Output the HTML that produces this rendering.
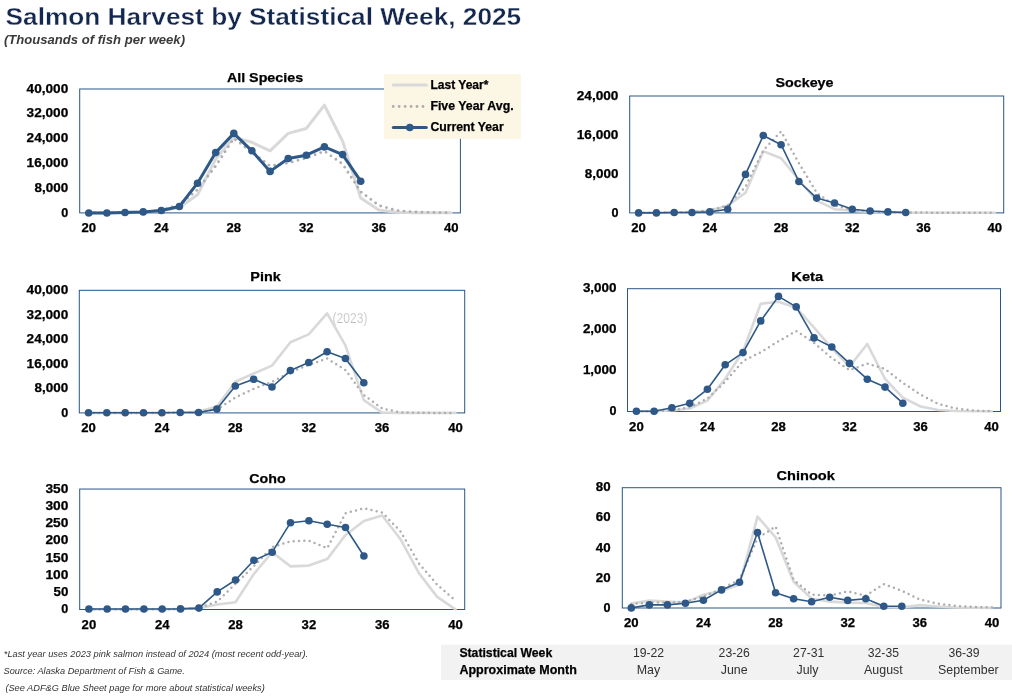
<!DOCTYPE html>
<html lang="en">
<head>
<meta charset="utf-8">
<title>Salmon Harvest by Statistical Week, 2025</title>
<style>
html,body{margin:0;padding:0;background:#fff;}
body{width:1012px;height:697px;overflow:hidden;font-family:"Liberation Sans", sans-serif;}
svg{display:block;will-change:transform;}
svg text{font-family:"Liberation Sans", sans-serif;}
</style>
</head>
<body>
<svg width="1012" height="697" viewBox="0 0 1012 697">
<rect x="0" y="0" width="1012" height="697" fill="#ffffff"/>
<text x="5.6" y="25.4" font-size="23.6" text-anchor="start" font-weight="bold" font-style="normal" fill="#14284f" textLength="515.6" lengthAdjust="spacingAndGlyphs" stroke="#fff" stroke-width="0.3">Salmon Harvest by Statistical Week, 2025</text>
<text x="4.0" y="44.0" font-size="12.3" text-anchor="start" font-weight="bold" font-style="italic" fill="#3a3a3a" textLength="181.0" lengthAdjust="spacingAndGlyphs">(Thousands of fish per week)</text>
<rect x="79.70" y="89.00" width="380.70" height="123.90" fill="#fff" stroke="#2a5585" stroke-width="1.0"/>
<polyline points="88.8,212.7 106.9,212.7 125.0,212.5 143.2,212.0 161.3,210.8 179.4,207.5 197.5,194.7 215.7,159.1 233.8,137.4 251.9,142.3 270.1,150.8 288.2,133.4 306.3,128.5 324.4,105.2 342.6,141.3 360.7,198.0 378.8,209.9 396.9,212.3 415.1,212.7 433.2,212.7 451.3,212.7" fill="none" stroke="#d9d9d9" stroke-width="3.0" stroke-linejoin="round" stroke-linecap="round"/>
<path d="M88.8,212.7 L106.9,212.7 L125.0,212.4 L143.2,211.9 L161.3,210.3 L179.4,204.6 L197.5,189.7 L215.7,166.0 L233.8,138.4 L251.9,152.2 L270.1,166.0 L288.2,163.0 L306.3,158.1 L324.4,151.2 L342.6,164.0 L360.7,191.7 L378.8,205.5 L396.9,210.5 L415.1,212.0 L433.2,212.5 L451.3,212.7" fill="none" stroke="#aeaeae" stroke-width="2.9" stroke-dasharray="0 6.0" stroke-linejoin="round" stroke-linecap="round"/>
<polyline points="88.8,213.0 106.9,213.0 125.0,212.5 143.2,211.9 161.3,210.5 179.4,206.5 197.5,183.2 215.7,152.6 233.8,133.4 251.9,150.8 270.1,171.4 288.2,158.5 306.3,155.2 324.4,146.9 342.6,154.6 360.7,181.2" fill="none" stroke="#2d5887" stroke-width="3.0" stroke-linejoin="round" stroke-linecap="round"/>
<circle cx="88.8" cy="213.0" r="3.8" fill="#2d5887"/>
<circle cx="106.9" cy="213.0" r="3.8" fill="#2d5887"/>
<circle cx="125.0" cy="212.5" r="3.8" fill="#2d5887"/>
<circle cx="143.2" cy="211.9" r="3.8" fill="#2d5887"/>
<circle cx="161.3" cy="210.5" r="3.8" fill="#2d5887"/>
<circle cx="179.4" cy="206.5" r="3.8" fill="#2d5887"/>
<circle cx="197.5" cy="183.2" r="3.8" fill="#2d5887"/>
<circle cx="215.7" cy="152.6" r="3.8" fill="#2d5887"/>
<circle cx="233.8" cy="133.4" r="3.8" fill="#2d5887"/>
<circle cx="251.9" cy="150.8" r="3.8" fill="#2d5887"/>
<circle cx="270.1" cy="171.4" r="3.8" fill="#2d5887"/>
<circle cx="288.2" cy="158.5" r="3.8" fill="#2d5887"/>
<circle cx="306.3" cy="155.2" r="3.8" fill="#2d5887"/>
<circle cx="324.4" cy="146.9" r="3.8" fill="#2d5887"/>
<circle cx="342.6" cy="154.6" r="3.8" fill="#2d5887"/>
<circle cx="360.7" cy="181.2" r="3.8" fill="#2d5887"/>
<text x="265.0" y="81.5" font-size="13.4" text-anchor="middle" font-weight="bold" font-style="normal" fill="#000" textLength="76.2" lengthAdjust="spacingAndGlyphs" stroke="#000" stroke-width="0.25">All Species</text>
<text x="68.2" y="217.0" font-size="12" text-anchor="end" font-weight="bold" font-style="normal" fill="#000" textLength="7.0" lengthAdjust="spacingAndGlyphs" stroke="#000" stroke-width="0.25">0</text>
<text x="68.2" y="192.0" font-size="12" text-anchor="end" font-weight="bold" font-style="normal" fill="#000" textLength="33.6" lengthAdjust="spacingAndGlyphs" stroke="#000" stroke-width="0.25">8,000</text>
<text x="68.2" y="167.0" font-size="12" text-anchor="end" font-weight="bold" font-style="normal" fill="#000" textLength="41.6" lengthAdjust="spacingAndGlyphs" stroke="#000" stroke-width="0.25">16,000</text>
<text x="68.2" y="142.0" font-size="12" text-anchor="end" font-weight="bold" font-style="normal" fill="#000" textLength="41.6" lengthAdjust="spacingAndGlyphs" stroke="#000" stroke-width="0.25">24,000</text>
<text x="68.2" y="117.0" font-size="12" text-anchor="end" font-weight="bold" font-style="normal" fill="#000" textLength="41.6" lengthAdjust="spacingAndGlyphs" stroke="#000" stroke-width="0.25">32,000</text>
<text x="68.2" y="93.0" font-size="12" text-anchor="end" font-weight="bold" font-style="normal" fill="#000" textLength="41.6" lengthAdjust="spacingAndGlyphs" stroke="#000" stroke-width="0.25">40,000</text>
<text x="88.8" y="232.0" font-size="12" text-anchor="middle" font-weight="bold" font-style="normal" fill="#000" textLength="14.6" lengthAdjust="spacingAndGlyphs" stroke="#000" stroke-width="0.25">20</text>
<text x="161.3" y="232.0" font-size="12" text-anchor="middle" font-weight="bold" font-style="normal" fill="#000" textLength="14.6" lengthAdjust="spacingAndGlyphs" stroke="#000" stroke-width="0.25">24</text>
<text x="233.8" y="232.0" font-size="12" text-anchor="middle" font-weight="bold" font-style="normal" fill="#000" textLength="14.6" lengthAdjust="spacingAndGlyphs" stroke="#000" stroke-width="0.25">28</text>
<text x="306.3" y="232.0" font-size="12" text-anchor="middle" font-weight="bold" font-style="normal" fill="#000" textLength="14.6" lengthAdjust="spacingAndGlyphs" stroke="#000" stroke-width="0.25">32</text>
<text x="378.8" y="232.0" font-size="12" text-anchor="middle" font-weight="bold" font-style="normal" fill="#000" textLength="14.6" lengthAdjust="spacingAndGlyphs" stroke="#000" stroke-width="0.25">36</text>
<text x="451.3" y="232.0" font-size="12" text-anchor="middle" font-weight="bold" font-style="normal" fill="#000" textLength="14.6" lengthAdjust="spacingAndGlyphs" stroke="#000" stroke-width="0.25">40</text>
<rect x="629.70" y="96.00" width="374.00" height="116.90" fill="#fff" stroke="#2a5585" stroke-width="1.0"/>
<polyline points="638.6,212.7 656.4,212.7 674.2,212.5 692.0,212.3 709.8,210.5 727.7,205.6 745.5,192.8 763.3,151.3 781.1,158.2 798.9,180.0 816.7,200.7 834.5,209.2 852.3,210.6 870.1,212.0 887.9,212.4 905.7,212.6 923.6,212.7 941.4,212.7 959.2,212.7 977.0,212.7 994.8,212.7" fill="none" stroke="#d9d9d9" stroke-width="2.6" stroke-linejoin="round" stroke-linecap="round"/>
<path d="M638.6,212.7 L656.4,212.7 L674.2,212.4 L692.0,212.0 L709.8,210.5 L727.7,205.6 L745.5,186.8 L763.3,150.3 L781.1,131.5 L798.9,163.1 L816.7,192.8 L834.5,205.6 L852.3,209.6 L870.1,211.5 L887.9,212.3 L905.7,212.5 L923.6,212.6 L941.4,212.7 L959.2,212.7 L977.0,212.7 L994.8,212.7" fill="none" stroke="#aeaeae" stroke-width="2.5" stroke-dasharray="0 5.33" stroke-linejoin="round" stroke-linecap="round"/>
<polyline points="638.6,212.9 656.4,212.9 674.2,212.5 692.0,212.5 709.8,211.9 727.7,209.2 745.5,174.4 763.3,135.5 781.1,144.7 798.9,181.5 816.7,198.1 834.5,203.0 852.3,209.2 870.1,211.0 887.9,211.9 905.7,212.5" fill="none" stroke="#2d5887" stroke-width="1.6" stroke-linejoin="round" stroke-linecap="round"/>
<circle cx="638.6" cy="212.9" r="3.8" fill="#2d5887"/>
<circle cx="656.4" cy="212.9" r="3.8" fill="#2d5887"/>
<circle cx="674.2" cy="212.5" r="3.8" fill="#2d5887"/>
<circle cx="692.0" cy="212.5" r="3.8" fill="#2d5887"/>
<circle cx="709.8" cy="211.9" r="3.8" fill="#2d5887"/>
<circle cx="727.7" cy="209.2" r="3.8" fill="#2d5887"/>
<circle cx="745.5" cy="174.4" r="3.8" fill="#2d5887"/>
<circle cx="763.3" cy="135.5" r="3.8" fill="#2d5887"/>
<circle cx="781.1" cy="144.7" r="3.8" fill="#2d5887"/>
<circle cx="798.9" cy="181.5" r="3.8" fill="#2d5887"/>
<circle cx="816.7" cy="198.1" r="3.8" fill="#2d5887"/>
<circle cx="834.5" cy="203.0" r="3.8" fill="#2d5887"/>
<circle cx="852.3" cy="209.2" r="3.8" fill="#2d5887"/>
<circle cx="870.1" cy="211.0" r="3.8" fill="#2d5887"/>
<circle cx="887.9" cy="211.9" r="3.8" fill="#2d5887"/>
<circle cx="905.7" cy="212.5" r="3.8" fill="#2d5887"/>
<text x="804.5" y="86.6" font-size="13.4" text-anchor="middle" font-weight="bold" font-style="normal" fill="#000" textLength="58.0" lengthAdjust="spacingAndGlyphs" stroke="#000" stroke-width="0.25">Sockeye</text>
<text x="618.4" y="217.0" font-size="12" text-anchor="end" font-weight="bold" font-style="normal" fill="#000" textLength="7.0" lengthAdjust="spacingAndGlyphs" stroke="#000" stroke-width="0.25">0</text>
<text x="618.4" y="178.0" font-size="12" text-anchor="end" font-weight="bold" font-style="normal" fill="#000" textLength="33.6" lengthAdjust="spacingAndGlyphs" stroke="#000" stroke-width="0.25">8,000</text>
<text x="618.4" y="139.0" font-size="12" text-anchor="end" font-weight="bold" font-style="normal" fill="#000" textLength="41.6" lengthAdjust="spacingAndGlyphs" stroke="#000" stroke-width="0.25">16,000</text>
<text x="618.4" y="100.0" font-size="12" text-anchor="end" font-weight="bold" font-style="normal" fill="#000" textLength="41.6" lengthAdjust="spacingAndGlyphs" stroke="#000" stroke-width="0.25">24,000</text>
<text x="638.6" y="232.0" font-size="12" text-anchor="middle" font-weight="bold" font-style="normal" fill="#000" textLength="14.6" lengthAdjust="spacingAndGlyphs" stroke="#000" stroke-width="0.25">20</text>
<text x="709.8" y="232.0" font-size="12" text-anchor="middle" font-weight="bold" font-style="normal" fill="#000" textLength="14.6" lengthAdjust="spacingAndGlyphs" stroke="#000" stroke-width="0.25">24</text>
<text x="781.1" y="232.0" font-size="12" text-anchor="middle" font-weight="bold" font-style="normal" fill="#000" textLength="14.6" lengthAdjust="spacingAndGlyphs" stroke="#000" stroke-width="0.25">28</text>
<text x="852.3" y="232.0" font-size="12" text-anchor="middle" font-weight="bold" font-style="normal" fill="#000" textLength="14.6" lengthAdjust="spacingAndGlyphs" stroke="#000" stroke-width="0.25">32</text>
<text x="923.6" y="232.0" font-size="12" text-anchor="middle" font-weight="bold" font-style="normal" fill="#000" textLength="14.6" lengthAdjust="spacingAndGlyphs" stroke="#000" stroke-width="0.25">36</text>
<text x="994.8" y="232.0" font-size="12" text-anchor="middle" font-weight="bold" font-style="normal" fill="#000" textLength="14.6" lengthAdjust="spacingAndGlyphs" stroke="#000" stroke-width="0.25">40</text>
<rect x="79.30" y="290.30" width="385.40" height="122.60" fill="#fff" stroke="#2a5585" stroke-width="1.0"/>
<polyline points="88.5,412.9 106.8,412.9 125.2,412.9 143.5,412.9 161.9,412.9 180.2,412.7 198.6,411.5 216.9,406.5 235.3,381.8 253.6,373.5 272.0,365.6 290.4,342.3 308.7,334.4 327.1,313.3 345.4,345.3 363.8,400.1 382.1,412.6 400.5,412.9 418.8,412.9 437.2,412.9 455.5,412.9" fill="none" stroke="#d9d9d9" stroke-width="2.6" stroke-linejoin="round" stroke-linecap="round"/>
<path d="M88.5,412.9 L106.8,412.9 L125.2,412.9 L143.5,412.9 L161.9,412.9 L180.2,412.7 L198.6,411.8 L216.9,409.5 L235.3,397.6 L253.6,388.8 L272.0,381.8 L290.4,372.0 L308.7,365.0 L327.1,358.5 L345.4,370.0 L363.8,395.0 L382.1,408.5 L400.5,412.4 L418.8,412.8 L437.2,412.9 L455.5,412.9" fill="none" stroke="#aeaeae" stroke-width="2.5" stroke-dasharray="0 5.33" stroke-linejoin="round" stroke-linecap="round"/>
<polyline points="88.5,412.7 106.8,412.7 125.2,412.7 143.5,412.7 161.9,412.7 180.2,412.5 198.6,412.5 216.9,409.1 235.3,386.0 253.6,379.3 272.0,387.0 290.4,370.6 308.7,362.5 327.1,351.8 345.4,358.5 363.8,382.8" fill="none" stroke="#2d5887" stroke-width="1.6" stroke-linejoin="round" stroke-linecap="round"/>
<circle cx="88.5" cy="412.7" r="3.8" fill="#2d5887"/>
<circle cx="106.8" cy="412.7" r="3.8" fill="#2d5887"/>
<circle cx="125.2" cy="412.7" r="3.8" fill="#2d5887"/>
<circle cx="143.5" cy="412.7" r="3.8" fill="#2d5887"/>
<circle cx="161.9" cy="412.7" r="3.8" fill="#2d5887"/>
<circle cx="180.2" cy="412.5" r="3.8" fill="#2d5887"/>
<circle cx="198.6" cy="412.5" r="3.8" fill="#2d5887"/>
<circle cx="216.9" cy="409.1" r="3.8" fill="#2d5887"/>
<circle cx="235.3" cy="386.0" r="3.8" fill="#2d5887"/>
<circle cx="253.6" cy="379.3" r="3.8" fill="#2d5887"/>
<circle cx="272.0" cy="387.0" r="3.8" fill="#2d5887"/>
<circle cx="290.4" cy="370.6" r="3.8" fill="#2d5887"/>
<circle cx="308.7" cy="362.5" r="3.8" fill="#2d5887"/>
<circle cx="327.1" cy="351.8" r="3.8" fill="#2d5887"/>
<circle cx="345.4" cy="358.5" r="3.8" fill="#2d5887"/>
<circle cx="363.8" cy="382.8" r="3.8" fill="#2d5887"/>
<text x="265.5" y="280.6" font-size="13.4" text-anchor="middle" font-weight="bold" font-style="normal" fill="#000" textLength="30.4" lengthAdjust="spacingAndGlyphs" stroke="#000" stroke-width="0.25">Pink</text>
<text x="68.2" y="417.0" font-size="12" text-anchor="end" font-weight="bold" font-style="normal" fill="#000" textLength="7.0" lengthAdjust="spacingAndGlyphs" stroke="#000" stroke-width="0.25">0</text>
<text x="68.2" y="392.0" font-size="12" text-anchor="end" font-weight="bold" font-style="normal" fill="#000" textLength="33.6" lengthAdjust="spacingAndGlyphs" stroke="#000" stroke-width="0.25">8,000</text>
<text x="68.2" y="368.0" font-size="12" text-anchor="end" font-weight="bold" font-style="normal" fill="#000" textLength="41.6" lengthAdjust="spacingAndGlyphs" stroke="#000" stroke-width="0.25">16,000</text>
<text x="68.2" y="343.0" font-size="12" text-anchor="end" font-weight="bold" font-style="normal" fill="#000" textLength="41.6" lengthAdjust="spacingAndGlyphs" stroke="#000" stroke-width="0.25">24,000</text>
<text x="68.2" y="319.0" font-size="12" text-anchor="end" font-weight="bold" font-style="normal" fill="#000" textLength="41.6" lengthAdjust="spacingAndGlyphs" stroke="#000" stroke-width="0.25">32,000</text>
<text x="68.2" y="294.0" font-size="12" text-anchor="end" font-weight="bold" font-style="normal" fill="#000" textLength="41.6" lengthAdjust="spacingAndGlyphs" stroke="#000" stroke-width="0.25">40,000</text>
<text x="88.5" y="432.0" font-size="12" text-anchor="middle" font-weight="bold" font-style="normal" fill="#000" textLength="14.6" lengthAdjust="spacingAndGlyphs" stroke="#000" stroke-width="0.25">20</text>
<text x="161.9" y="432.0" font-size="12" text-anchor="middle" font-weight="bold" font-style="normal" fill="#000" textLength="14.6" lengthAdjust="spacingAndGlyphs" stroke="#000" stroke-width="0.25">24</text>
<text x="235.3" y="432.0" font-size="12" text-anchor="middle" font-weight="bold" font-style="normal" fill="#000" textLength="14.6" lengthAdjust="spacingAndGlyphs" stroke="#000" stroke-width="0.25">28</text>
<text x="308.7" y="432.0" font-size="12" text-anchor="middle" font-weight="bold" font-style="normal" fill="#000" textLength="14.6" lengthAdjust="spacingAndGlyphs" stroke="#000" stroke-width="0.25">32</text>
<text x="382.1" y="432.0" font-size="12" text-anchor="middle" font-weight="bold" font-style="normal" fill="#000" textLength="14.6" lengthAdjust="spacingAndGlyphs" stroke="#000" stroke-width="0.25">36</text>
<text x="455.5" y="432.0" font-size="12" text-anchor="middle" font-weight="bold" font-style="normal" fill="#000" textLength="14.6" lengthAdjust="spacingAndGlyphs" stroke="#000" stroke-width="0.25">40</text>
<text x="332.6" y="323.0" font-size="14.6" text-anchor="start" font-weight="normal" font-style="normal" fill="#bcbcbc" textLength="34.8" lengthAdjust="spacingAndGlyphs" stroke="#fff" stroke-width="0.25">(2023)</text>
<rect x="627.50" y="288.70" width="373.00" height="122.80" fill="#fff" stroke="#2a5585" stroke-width="1.0"/>
<polyline points="636.4,411.2 654.1,411.1 671.9,410.5 689.7,408.5 707.4,400.6 725.2,378.8 743.0,351.2 760.7,303.8 778.5,301.8 796.2,307.7 814.0,327.5 831.8,348.2 849.5,366.5 867.3,344.0 885.0,378.8 902.8,397.6 920.6,406.5 938.3,410.0 956.1,411.0 973.9,411.2 991.6,411.2" fill="none" stroke="#d9d9d9" stroke-width="2.6" stroke-linejoin="round" stroke-linecap="round"/>
<path d="M636.4,411.2 L654.1,411.1 L671.9,410.5 L689.7,407.1 L707.4,398.6 L725.2,381.8 L743.0,361.0 L760.7,352.2 L778.5,341.3 L796.2,331.0 L814.0,342.8 L831.8,358.1 L849.5,370.2 L867.3,363.6 L885.0,369.0 L902.8,382.8 L920.6,394.7 L938.3,404.0 L956.1,408.5 L973.9,410.5 L991.6,411.2" fill="none" stroke="#aeaeae" stroke-width="2.5" stroke-dasharray="0 5.33" stroke-linejoin="round" stroke-linecap="round"/>
<polyline points="636.4,411.3 654.1,411.3 671.9,407.7 689.7,403.2 707.4,389.3 725.2,364.8 743.0,352.6 760.7,320.9 778.5,296.4 796.2,306.9 814.0,337.9 831.8,347.0 849.5,363.4 867.3,379.2 885.0,387.1 902.8,403.2" fill="none" stroke="#2d5887" stroke-width="1.6" stroke-linejoin="round" stroke-linecap="round"/>
<circle cx="636.4" cy="411.3" r="3.8" fill="#2d5887"/>
<circle cx="654.1" cy="411.3" r="3.8" fill="#2d5887"/>
<circle cx="671.9" cy="407.7" r="3.8" fill="#2d5887"/>
<circle cx="689.7" cy="403.2" r="3.8" fill="#2d5887"/>
<circle cx="707.4" cy="389.3" r="3.8" fill="#2d5887"/>
<circle cx="725.2" cy="364.8" r="3.8" fill="#2d5887"/>
<circle cx="743.0" cy="352.6" r="3.8" fill="#2d5887"/>
<circle cx="760.7" cy="320.9" r="3.8" fill="#2d5887"/>
<circle cx="778.5" cy="296.4" r="3.8" fill="#2d5887"/>
<circle cx="796.2" cy="306.9" r="3.8" fill="#2d5887"/>
<circle cx="814.0" cy="337.9" r="3.8" fill="#2d5887"/>
<circle cx="831.8" cy="347.0" r="3.8" fill="#2d5887"/>
<circle cx="849.5" cy="363.4" r="3.8" fill="#2d5887"/>
<circle cx="867.3" cy="379.2" r="3.8" fill="#2d5887"/>
<circle cx="885.0" cy="387.1" r="3.8" fill="#2d5887"/>
<circle cx="902.8" cy="403.2" r="3.8" fill="#2d5887"/>
<text x="807.2" y="280.6" font-size="13.4" text-anchor="middle" font-weight="bold" font-style="normal" fill="#000" textLength="31.8" lengthAdjust="spacingAndGlyphs" stroke="#000" stroke-width="0.25">Keta</text>
<text x="616.5" y="415.0" font-size="12" text-anchor="end" font-weight="bold" font-style="normal" fill="#000" textLength="7.0" lengthAdjust="spacingAndGlyphs" stroke="#000" stroke-width="0.25">0</text>
<text x="616.5" y="374.0" font-size="12" text-anchor="end" font-weight="bold" font-style="normal" fill="#000" textLength="33.6" lengthAdjust="spacingAndGlyphs" stroke="#000" stroke-width="0.25">1,000</text>
<text x="616.5" y="333.0" font-size="12" text-anchor="end" font-weight="bold" font-style="normal" fill="#000" textLength="33.6" lengthAdjust="spacingAndGlyphs" stroke="#000" stroke-width="0.25">2,000</text>
<text x="616.5" y="292.0" font-size="12" text-anchor="end" font-weight="bold" font-style="normal" fill="#000" textLength="33.6" lengthAdjust="spacingAndGlyphs" stroke="#000" stroke-width="0.25">3,000</text>
<text x="636.4" y="431.0" font-size="12" text-anchor="middle" font-weight="bold" font-style="normal" fill="#000" textLength="14.6" lengthAdjust="spacingAndGlyphs" stroke="#000" stroke-width="0.25">20</text>
<text x="707.4" y="431.0" font-size="12" text-anchor="middle" font-weight="bold" font-style="normal" fill="#000" textLength="14.6" lengthAdjust="spacingAndGlyphs" stroke="#000" stroke-width="0.25">24</text>
<text x="778.5" y="431.0" font-size="12" text-anchor="middle" font-weight="bold" font-style="normal" fill="#000" textLength="14.6" lengthAdjust="spacingAndGlyphs" stroke="#000" stroke-width="0.25">28</text>
<text x="849.5" y="431.0" font-size="12" text-anchor="middle" font-weight="bold" font-style="normal" fill="#000" textLength="14.6" lengthAdjust="spacingAndGlyphs" stroke="#000" stroke-width="0.25">32</text>
<text x="920.6" y="431.0" font-size="12" text-anchor="middle" font-weight="bold" font-style="normal" fill="#000" textLength="14.6" lengthAdjust="spacingAndGlyphs" stroke="#000" stroke-width="0.25">36</text>
<text x="991.6" y="431.0" font-size="12" text-anchor="middle" font-weight="bold" font-style="normal" fill="#000" textLength="14.6" lengthAdjust="spacingAndGlyphs" stroke="#000" stroke-width="0.25">40</text>
<rect x="79.70" y="489.05" width="385.00" height="120.45" fill="#fff" stroke="#2a5585" stroke-width="1.0"/>
<polyline points="88.9,609.2 107.2,609.2 125.5,609.2 143.9,609.2 162.2,609.2 180.5,609.0 198.9,608.1 217.2,604.5 235.5,602.2 253.9,573.9 272.2,552.2 290.5,566.4 308.9,565.6 327.2,559.1 345.5,535.0 363.9,521.0 382.2,515.5 400.5,539.2 418.9,573.1 437.2,596.9 455.5,609.3" fill="none" stroke="#d9d9d9" stroke-width="2.6" stroke-linejoin="round" stroke-linecap="round"/>
<path d="M88.9,609.2 L107.2,609.2 L125.5,609.2 L143.9,609.2 L162.2,609.2 L180.5,609.0 L198.9,608.0 L217.2,601.6 L235.5,583.8 L253.9,566.0 L272.2,547.2 L290.5,541.3 L308.9,540.7 L327.2,548.2 L345.5,513.3 L363.9,508.2 L382.2,512.5 L400.5,531.4 L418.9,563.4 L437.2,584.7 L455.5,600.6" fill="none" stroke="#aeaeae" stroke-width="2.5" stroke-dasharray="0 5.33" stroke-linejoin="round" stroke-linecap="round"/>
<polyline points="88.9,609.0 107.2,609.0 125.5,609.0 143.9,609.0 162.2,609.0 180.5,608.9 198.9,608.1 217.2,591.9 235.5,580.0 253.9,560.3 272.2,552.2 290.5,522.7 308.9,520.7 327.2,524.3 345.5,527.5 363.9,556.0" fill="none" stroke="#2d5887" stroke-width="1.6" stroke-linejoin="round" stroke-linecap="round"/>
<circle cx="88.9" cy="609.0" r="3.8" fill="#2d5887"/>
<circle cx="107.2" cy="609.0" r="3.8" fill="#2d5887"/>
<circle cx="125.5" cy="609.0" r="3.8" fill="#2d5887"/>
<circle cx="143.9" cy="609.0" r="3.8" fill="#2d5887"/>
<circle cx="162.2" cy="609.0" r="3.8" fill="#2d5887"/>
<circle cx="180.5" cy="608.9" r="3.8" fill="#2d5887"/>
<circle cx="198.9" cy="608.1" r="3.8" fill="#2d5887"/>
<circle cx="217.2" cy="591.9" r="3.8" fill="#2d5887"/>
<circle cx="235.5" cy="580.0" r="3.8" fill="#2d5887"/>
<circle cx="253.9" cy="560.3" r="3.8" fill="#2d5887"/>
<circle cx="272.2" cy="552.2" r="3.8" fill="#2d5887"/>
<circle cx="290.5" cy="522.7" r="3.8" fill="#2d5887"/>
<circle cx="308.9" cy="520.7" r="3.8" fill="#2d5887"/>
<circle cx="327.2" cy="524.3" r="3.8" fill="#2d5887"/>
<circle cx="345.5" cy="527.5" r="3.8" fill="#2d5887"/>
<circle cx="363.9" cy="556.0" r="3.8" fill="#2d5887"/>
<text x="267.4" y="482.7" font-size="13.4" text-anchor="middle" font-weight="bold" font-style="normal" fill="#000" textLength="36.4" lengthAdjust="spacingAndGlyphs" stroke="#000" stroke-width="0.25">Coho</text>
<text x="68.3" y="613.0" font-size="12" text-anchor="end" font-weight="bold" font-style="normal" fill="#000" textLength="7.0" lengthAdjust="spacingAndGlyphs" stroke="#000" stroke-width="0.25">0</text>
<text x="68.3" y="596.0" font-size="12" text-anchor="end" font-weight="bold" font-style="normal" fill="#000" textLength="14.8" lengthAdjust="spacingAndGlyphs" stroke="#000" stroke-width="0.25">50</text>
<text x="68.3" y="579.0" font-size="12" text-anchor="end" font-weight="bold" font-style="normal" fill="#000" textLength="22.9" lengthAdjust="spacingAndGlyphs" stroke="#000" stroke-width="0.25">100</text>
<text x="68.3" y="562.0" font-size="12" text-anchor="end" font-weight="bold" font-style="normal" fill="#000" textLength="22.9" lengthAdjust="spacingAndGlyphs" stroke="#000" stroke-width="0.25">150</text>
<text x="68.3" y="544.0" font-size="12" text-anchor="end" font-weight="bold" font-style="normal" fill="#000" textLength="22.9" lengthAdjust="spacingAndGlyphs" stroke="#000" stroke-width="0.25">200</text>
<text x="68.3" y="527.0" font-size="12" text-anchor="end" font-weight="bold" font-style="normal" fill="#000" textLength="22.9" lengthAdjust="spacingAndGlyphs" stroke="#000" stroke-width="0.25">250</text>
<text x="68.3" y="510.0" font-size="12" text-anchor="end" font-weight="bold" font-style="normal" fill="#000" textLength="22.9" lengthAdjust="spacingAndGlyphs" stroke="#000" stroke-width="0.25">300</text>
<text x="68.3" y="493.0" font-size="12" text-anchor="end" font-weight="bold" font-style="normal" fill="#000" textLength="22.9" lengthAdjust="spacingAndGlyphs" stroke="#000" stroke-width="0.25">350</text>
<text x="88.9" y="629.0" font-size="12" text-anchor="middle" font-weight="bold" font-style="normal" fill="#000" textLength="14.6" lengthAdjust="spacingAndGlyphs" stroke="#000" stroke-width="0.25">20</text>
<text x="162.2" y="629.0" font-size="12" text-anchor="middle" font-weight="bold" font-style="normal" fill="#000" textLength="14.6" lengthAdjust="spacingAndGlyphs" stroke="#000" stroke-width="0.25">24</text>
<text x="235.5" y="629.0" font-size="12" text-anchor="middle" font-weight="bold" font-style="normal" fill="#000" textLength="14.6" lengthAdjust="spacingAndGlyphs" stroke="#000" stroke-width="0.25">28</text>
<text x="308.9" y="629.0" font-size="12" text-anchor="middle" font-weight="bold" font-style="normal" fill="#000" textLength="14.6" lengthAdjust="spacingAndGlyphs" stroke="#000" stroke-width="0.25">32</text>
<text x="382.2" y="629.0" font-size="12" text-anchor="middle" font-weight="bold" font-style="normal" fill="#000" textLength="14.6" lengthAdjust="spacingAndGlyphs" stroke="#000" stroke-width="0.25">36</text>
<text x="455.5" y="629.0" font-size="12" text-anchor="middle" font-weight="bold" font-style="normal" fill="#000" textLength="14.6" lengthAdjust="spacingAndGlyphs" stroke="#000" stroke-width="0.25">40</text>
<rect x="622.30" y="487.70" width="378.70" height="120.30" fill="#fff" stroke="#2a5585" stroke-width="1.0"/>
<polyline points="631.3,603.6 649.3,600.6 667.4,601.6 685.4,602.6 703.4,594.7 721.5,590.7 739.5,584.8 757.5,516.6 775.6,537.3 793.6,581.8 811.6,598.6 829.7,601.6 847.7,602.6 865.8,603.0 883.8,607.0 901.8,607.5 919.8,605.1 937.9,606.5 955.9,607.5 974.0,607.7 992.0,607.9" fill="none" stroke="#d9d9d9" stroke-width="2.6" stroke-linejoin="round" stroke-linecap="round"/>
<path d="M631.3,604.0 L649.3,602.6 L667.4,602.6 L685.4,601.6 L703.4,596.6 L721.5,588.7 L739.5,579.8 L757.5,538.3 L775.6,526.5 L793.6,579.8 L811.6,594.7 L829.7,595.6 L847.7,591.3 L865.8,595.6 L883.8,584.2 L901.8,590.7 L919.8,599.6 L937.9,603.6 L955.9,605.9 L974.0,606.9 L992.0,607.5" fill="none" stroke="#aeaeae" stroke-width="2.5" stroke-dasharray="0 5.33" stroke-linejoin="round" stroke-linecap="round"/>
<polyline points="631.3,607.9 649.3,604.9 667.4,604.9 685.4,603.2 703.4,600.2 721.5,589.9 739.5,582.2 757.5,532.6 775.6,592.7 793.6,598.8 811.6,601.8 829.7,597.2 847.7,600.4 865.8,598.8 883.8,606.3 901.8,606.3" fill="none" stroke="#2d5887" stroke-width="1.6" stroke-linejoin="round" stroke-linecap="round"/>
<circle cx="631.3" cy="607.9" r="3.8" fill="#2d5887"/>
<circle cx="649.3" cy="604.9" r="3.8" fill="#2d5887"/>
<circle cx="667.4" cy="604.9" r="3.8" fill="#2d5887"/>
<circle cx="685.4" cy="603.2" r="3.8" fill="#2d5887"/>
<circle cx="703.4" cy="600.2" r="3.8" fill="#2d5887"/>
<circle cx="721.5" cy="589.9" r="3.8" fill="#2d5887"/>
<circle cx="739.5" cy="582.2" r="3.8" fill="#2d5887"/>
<circle cx="757.5" cy="532.6" r="3.8" fill="#2d5887"/>
<circle cx="775.6" cy="592.7" r="3.8" fill="#2d5887"/>
<circle cx="793.6" cy="598.8" r="3.8" fill="#2d5887"/>
<circle cx="811.6" cy="601.8" r="3.8" fill="#2d5887"/>
<circle cx="829.7" cy="597.2" r="3.8" fill="#2d5887"/>
<circle cx="847.7" cy="600.4" r="3.8" fill="#2d5887"/>
<circle cx="865.8" cy="598.8" r="3.8" fill="#2d5887"/>
<circle cx="883.8" cy="606.3" r="3.8" fill="#2d5887"/>
<circle cx="901.8" cy="606.3" r="3.8" fill="#2d5887"/>
<text x="805.7" y="479.7" font-size="13.4" text-anchor="middle" font-weight="bold" font-style="normal" fill="#000" textLength="58.4" lengthAdjust="spacingAndGlyphs" stroke="#000" stroke-width="0.25">Chinook</text>
<text x="610.6" y="612.0" font-size="12" text-anchor="end" font-weight="bold" font-style="normal" fill="#000" textLength="7.0" lengthAdjust="spacingAndGlyphs" stroke="#000" stroke-width="0.25">0</text>
<text x="610.6" y="582.0" font-size="12" text-anchor="end" font-weight="bold" font-style="normal" fill="#000" textLength="14.8" lengthAdjust="spacingAndGlyphs" stroke="#000" stroke-width="0.25">20</text>
<text x="610.6" y="552.0" font-size="12" text-anchor="end" font-weight="bold" font-style="normal" fill="#000" textLength="14.8" lengthAdjust="spacingAndGlyphs" stroke="#000" stroke-width="0.25">40</text>
<text x="610.6" y="521.0" font-size="12" text-anchor="end" font-weight="bold" font-style="normal" fill="#000" textLength="14.8" lengthAdjust="spacingAndGlyphs" stroke="#000" stroke-width="0.25">60</text>
<text x="610.6" y="491.0" font-size="12" text-anchor="end" font-weight="bold" font-style="normal" fill="#000" textLength="14.8" lengthAdjust="spacingAndGlyphs" stroke="#000" stroke-width="0.25">80</text>
<text x="631.3" y="627.0" font-size="12" text-anchor="middle" font-weight="bold" font-style="normal" fill="#000" textLength="14.6" lengthAdjust="spacingAndGlyphs" stroke="#000" stroke-width="0.25">20</text>
<text x="703.4" y="627.0" font-size="12" text-anchor="middle" font-weight="bold" font-style="normal" fill="#000" textLength="14.6" lengthAdjust="spacingAndGlyphs" stroke="#000" stroke-width="0.25">24</text>
<text x="775.6" y="627.0" font-size="12" text-anchor="middle" font-weight="bold" font-style="normal" fill="#000" textLength="14.6" lengthAdjust="spacingAndGlyphs" stroke="#000" stroke-width="0.25">28</text>
<text x="847.7" y="627.0" font-size="12" text-anchor="middle" font-weight="bold" font-style="normal" fill="#000" textLength="14.6" lengthAdjust="spacingAndGlyphs" stroke="#000" stroke-width="0.25">32</text>
<text x="919.8" y="627.0" font-size="12" text-anchor="middle" font-weight="bold" font-style="normal" fill="#000" textLength="14.6" lengthAdjust="spacingAndGlyphs" stroke="#000" stroke-width="0.25">36</text>
<text x="992.0" y="627.0" font-size="12" text-anchor="middle" font-weight="bold" font-style="normal" fill="#000" textLength="14.6" lengthAdjust="spacingAndGlyphs" stroke="#000" stroke-width="0.25">40</text>
<rect x="384.0" y="74.0" width="136.8" height="64.8" fill="#fcf6e4"/>
<line x1="393.3" y1="85.1" x2="426.3" y2="85.1" stroke="#d9d9d9" stroke-width="3.0" stroke-linecap="round"/>
<line x1="393.2" y1="106.5" x2="427" y2="106.5" stroke="#aeaeae" stroke-width="2.9" stroke-dasharray="0 5.95" stroke-linecap="round"/>
<line x1="393.3" y1="127.5" x2="426.3" y2="127.5" stroke="#2d5887" stroke-width="3" stroke-linecap="round"/>
<circle cx="409.8" cy="127.5" r="3.8" fill="#2d5887"/>
<text x="430.4" y="89.0" font-size="12" text-anchor="start" font-weight="bold" font-style="normal" fill="#000" textLength="58.0" lengthAdjust="spacingAndGlyphs" stroke="#000" stroke-width="0.25">Last Year*</text>
<text x="430.4" y="110.0" font-size="12" text-anchor="start" font-weight="bold" font-style="normal" fill="#000" textLength="83.2" lengthAdjust="spacingAndGlyphs" stroke="#000" stroke-width="0.25">Five Year Avg.</text>
<text x="430.4" y="131.0" font-size="12" text-anchor="start" font-weight="bold" font-style="normal" fill="#000" textLength="73.3" lengthAdjust="spacingAndGlyphs" stroke="#000" stroke-width="0.25">Current Year</text>
<text x="3.8" y="657.0" font-size="8.3" text-anchor="start" font-weight="normal" font-style="italic" fill="#333" textLength="304.3" lengthAdjust="spacingAndGlyphs">*Last year uses 2023 pink salmon instead of 2024 (most recent odd-year).</text>
<text x="3.5" y="674.0" font-size="8.3" text-anchor="start" font-weight="normal" font-style="italic" fill="#333" textLength="181.3" lengthAdjust="spacingAndGlyphs">Source: Alaska Department of Fish &amp; Game.</text>
<text x="5.4" y="691.0" font-size="8.3" text-anchor="start" font-weight="normal" font-style="italic" fill="#333" textLength="259.4" lengthAdjust="spacingAndGlyphs">(See ADF&amp;G Blue Sheet page for more about statistical weeks)</text>
<rect x="441" y="644.7" width="571" height="35.3" fill="#f2f2f2"/>
<text x="459.4" y="657.0" font-size="12.5" text-anchor="start" font-weight="bold" font-style="normal" fill="#000" textLength="92.8" lengthAdjust="spacingAndGlyphs" stroke="#000" stroke-width="0.25">Statistical Week</text>
<text x="459.4" y="674.0" font-size="12.5" text-anchor="start" font-weight="bold" font-style="normal" fill="#000" textLength="117.4" lengthAdjust="spacingAndGlyphs" stroke="#000" stroke-width="0.25">Approximate Month</text>
<text x="648.5" y="657.0" font-size="12.2" text-anchor="middle" font-weight="normal" font-style="normal" fill="#303030">19-22</text>
<text x="648.5" y="674.0" font-size="12.4" text-anchor="middle" font-weight="normal" font-style="normal" fill="#303030">May</text>
<text x="734.2" y="657.0" font-size="12.2" text-anchor="middle" font-weight="normal" font-style="normal" fill="#303030">23-26</text>
<text x="734.2" y="674.0" font-size="12.4" text-anchor="middle" font-weight="normal" font-style="normal" fill="#303030">June</text>
<text x="808.7" y="657.0" font-size="12.2" text-anchor="middle" font-weight="normal" font-style="normal" fill="#303030">27-31</text>
<text x="807.5" y="674.0" font-size="12.4" text-anchor="middle" font-weight="normal" font-style="normal" fill="#303030">July</text>
<text x="883.4" y="657.0" font-size="12.2" text-anchor="middle" font-weight="normal" font-style="normal" fill="#303030">32-35</text>
<text x="883.4" y="674.0" font-size="12.4" text-anchor="middle" font-weight="normal" font-style="normal" fill="#303030">August</text>
<text x="964.0" y="657.0" font-size="12.2" text-anchor="middle" font-weight="normal" font-style="normal" fill="#303030">36-39</text>
<text x="968.4" y="674.0" font-size="12.4" text-anchor="middle" font-weight="normal" font-style="normal" fill="#303030">September</text>
</svg>
</body>
</html>
